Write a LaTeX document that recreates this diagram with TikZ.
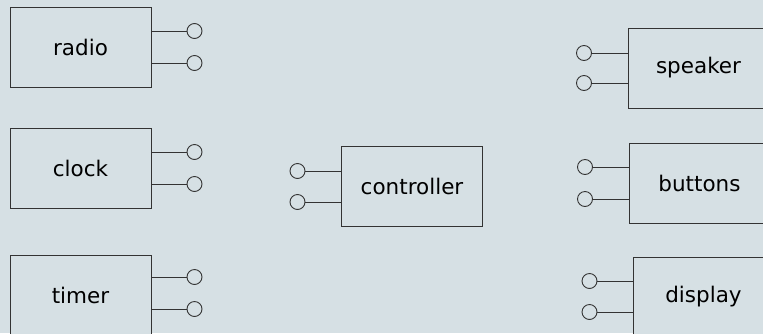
\documentclass[tikz,border=0pt]{standalone}
\usepackage{fontspec}
\newfontfamily\boxfont{DejaVu Sans}
\definecolor{bg}{HTML}{D6E0E4}
\definecolor{linec}{HTML}{333333}
\tikzset{
  box/.style={draw=linec, fill=bg, line width=1pt, minimum width=141pt,
    minimum height=80pt, inner sep=0pt, font=\boxfont\fontsize{21.5}{24}\selectfont, text=black},
  port/.style={circle, draw=linec, fill=bg, line width=0.9pt, minimum size=15pt, inner sep=0pt},
  wire/.style={draw=linec, line width=1pt}
}
\begin{document}
\begin{tikzpicture}[x=1pt, y=-1pt]
  \fill[bg] (0,0) rectangle (763,333);
  \useasboundingbox (0,0) rectangle (763,333);

  % modules on the left, ports on their right side
  \node[box] (radio) at (80.5,47) {radio};
  \node[port] (radioA) at (194.5,31) {};
  \node[port] (radioB) at (194.5,63) {};
  \draw[wire] (radio.east |- radioA) -- (radioA);
  \draw[wire] (radio.east |- radioB) -- (radioB);

  \node[box] (clock) at (80.5,168) {clock};
  \node[port] (clockA) at (194.5,152) {};
  \node[port] (clockB) at (194.5,184) {};
  \draw[wire] (clock.east |- clockA) -- (clockA);
  \draw[wire] (clock.east |- clockB) -- (clockB);

  \node[box] (timer) at (80.5,295) {timer};
  \node[port] (timerA) at (194.5,277) {};
  \node[port] (timerB) at (194.5,309) {};
  \draw[wire] (timer.east |- timerA) -- (timerA);
  \draw[wire] (timer.east |- timerB) -- (timerB);

  % central module, ports on its left side
  \node[box] (ctrl) at (412,186.5) {controller};
  \node[port] (ctrlA) at (297.5,171) {};
  \node[port] (ctrlB) at (297.5,202) {};
  \draw[wire] (ctrl.west |- ctrlA) -- (ctrlA);
  \draw[wire] (ctrl.west |- ctrlB) -- (ctrlB);

  % modules on the right, ports on their left side
  \node[box] (speaker) at (698.5,68) {speaker};
  \node[port] (speakerA) at (584,53) {};
  \node[port] (speakerB) at (584,83) {};
  \draw[wire] (speaker.west |- speakerA) -- (speakerA);
  \draw[wire] (speaker.west |- speakerB) -- (speakerB);

  \node[box] (buttons) at (699.5,183) {buttons};
  \node[port] (buttonsA) at (585,167) {};
  \node[port] (buttonsB) at (585,199) {};
  \draw[wire] (buttons.west |- buttonsA) -- (buttonsA);
  \draw[wire] (buttons.west |- buttonsB) -- (buttonsB);

  \node[box] (display) at (703.5,297) {display};
  \node[port] (displayA) at (589.5,281) {};
  \node[port] (displayB) at (589.5,312) {};
  \draw[wire] (display.west |- displayA) -- (displayA);
  \draw[wire] (display.west |- displayB) -- (displayB);
\end{tikzpicture}
\end{document}
